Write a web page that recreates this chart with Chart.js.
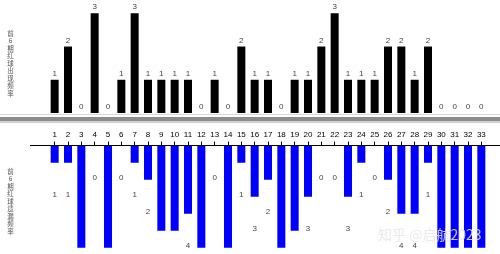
<!DOCTYPE html>
<html>
<head>
<meta charset="utf-8">
<script src="https://cdn.jsdelivr.net/npm/chart.js@4.4.0/dist/chart.umd.min.js"></script>
<style>
  html, body { margin: 0; padding: 0; background: #fff; }
  #wrap { position: relative; width: 500px; height: 254px; overflow: hidden; background: #fff; }
  canvas { position: absolute; left: 0; }
  #topChart { top: 0; }
  #bottomChart { top: 122px; }
  #sep {
    position: absolute; left: 0; top: 114px; width: 500px; height: 9px;
    background: linear-gradient(#d8d8d8 0, #d8d8d8 1px, #fff 1px, #fff 3px, #8c8c8c 3px, #8c8c8c 7px, #cfcfcf 7px, #cfcfcf 9px);
  }
  #mark {
    position: absolute; left: 378px; top: 224px; font-family: "Noto Sans CJK SC", sans-serif;
    font-size: 14px; color: rgba(230,230,230,0.85); white-space: nowrap;
  }
</style>
</head>
<body>
<div id="wrap">
  <canvas id="topChart" width="500" height="113"></canvas>
  <div id="sep"></div>
  <canvas id="bottomChart" width="500" height="132"></canvas>
  <div id="mark">知乎 @启航2023</div>
</div>
<script>
const balls = ['1','2','3','4','5','6','7','8','9','10','11','12','13','14','15','16','17',
  '18','19','20','21','22','23','24','25','26','27','28','29','30','31','32','33'];
// times each red ball appeared in the last 6 draws
const appearCounts = [1,2,0,3,0,1,3,1,1,1,1,0,1,0,2,1,1,0,1,1,2,3,1,1,1,2,2,1,2,0,0,0,0];
// draws missed in the last 6 draws
const missCounts = [1,1,6,0,6,0,1,2,5,5,4,6,0,6,1,3,2,6,5,3,0,0,3,1,0,2,4,4,1,6,6,6,6];
const topTitle = '前6期红球出现频率';
const bottomTitle = '前6期红球遗漏频率';

Chart.defaults.font.family = 'Arial, "Liberation Sans", sans-serif';
Chart.defaults.animation = false;

function drawVertical(ctx, text, x, y0) {
  ctx.save();
  ctx.fillStyle = '#555';
  ctx.font = '6.5px "Noto Sans CJK SC", sans-serif';
  ctx.textAlign = 'center';
  ctx.textBaseline = 'middle';
  [...text].forEach((ch, i) => ctx.fillText(ch, x, y0 + i * 7.5));
  ctx.restore();
}

// number above each bar
const topLabels = {
  id: 'topLabels',
  afterDatasetsDraw(chart) {
    const ctx = chart.ctx;
    const meta = chart.getDatasetMeta(0);
    ctx.save();
    ctx.fillStyle = '#444';
    ctx.font = '8px Arial, "Liberation Sans", sans-serif';
    ctx.textAlign = 'center';
    ctx.textBaseline = 'middle';
    meta.data.forEach((bar, i) => {
      ctx.fillText(appearCounts[i], bar.x, bar.y - 6);
    });
    ctx.restore();
    drawVertical(ctx, topTitle, 10.5, 33.5);
  }
};

// numbers below the blue bars, plus the long axis line
const bottomLabels = {
  id: 'bottomLabels',
  afterDatasetsDraw(chart) {
    const ctx = chart.ctx;
    const meta = chart.getDatasetMeta(0);
    const y = chart.scales.y;
    ctx.save();
    ctx.fillStyle = '#444';
    ctx.font = '8px Arial, "Liberation Sans", sans-serif';
    ctx.textAlign = 'center';
    ctx.textBaseline = 'middle';
    meta.data.forEach((bar, i) => {
      ctx.fillText(missCounts[i], bar.x, y.getPixelForValue(missCounts[i] + 1.9));
    });
    ctx.strokeStyle = '#000';
    ctx.lineWidth = 1;
    const top = Math.round(chart.chartArea.top) - 0.5;
    ctx.beginPath();
    ctx.moveTo(30, top);
    ctx.lineTo(500, top);
    ctx.stroke();
    ctx.restore();
    drawVertical(ctx, bottomTitle, 10.5, 49.5);
  }
};

new Chart(document.getElementById('topChart'), {
  type: 'bar',
  data: {
    labels: balls,
    datasets: [{
      data: appearCounts,
      backgroundColor: '#000',
      categoryPercentage: 1,
      barPercentage: 0.6
    }]
  },
  options: {
    responsive: false,
    devicePixelRatio: 1,
    layout: { padding: { left: 48, right: 12, top: 0, bottom: 0 } },
    plugins: { legend: { display: false }, tooltip: { enabled: false } },
    scales: {
      x: { display: false },
      y: { display: false, min: 0, max: 3.4 }
    }
  },
  plugins: [topLabels]
});

new Chart(document.getElementById('bottomChart'), {
  type: 'bar',
  data: {
    labels: balls,
    datasets: [{
      data: missCounts,
      backgroundColor: '#0000ff',
      categoryPercentage: 1,
      barPercentage: 0.6
    }]
  },
  options: {
    responsive: false,
    devicePixelRatio: 1,
    layout: { padding: { left: 48, right: 12, top: 6, bottom: 0 } },
    plugins: { legend: { display: false }, tooltip: { enabled: false } },
    scales: {
      x: {
        position: 'top',
        border: { display: false },
        grid: { display: true, drawOnChartArea: false, drawTicks: true, tickLength: 4, color: '#000', offset: false },
        ticks: { color: '#000', font: { size: 8 }, padding: 2, maxRotation: 0, autoSkip: false }
      },
      y: { display: false, reverse: true, min: 0, max: 6.36 }
    }
  },
  plugins: [bottomLabels]
});
</script>
</body>
</html>
